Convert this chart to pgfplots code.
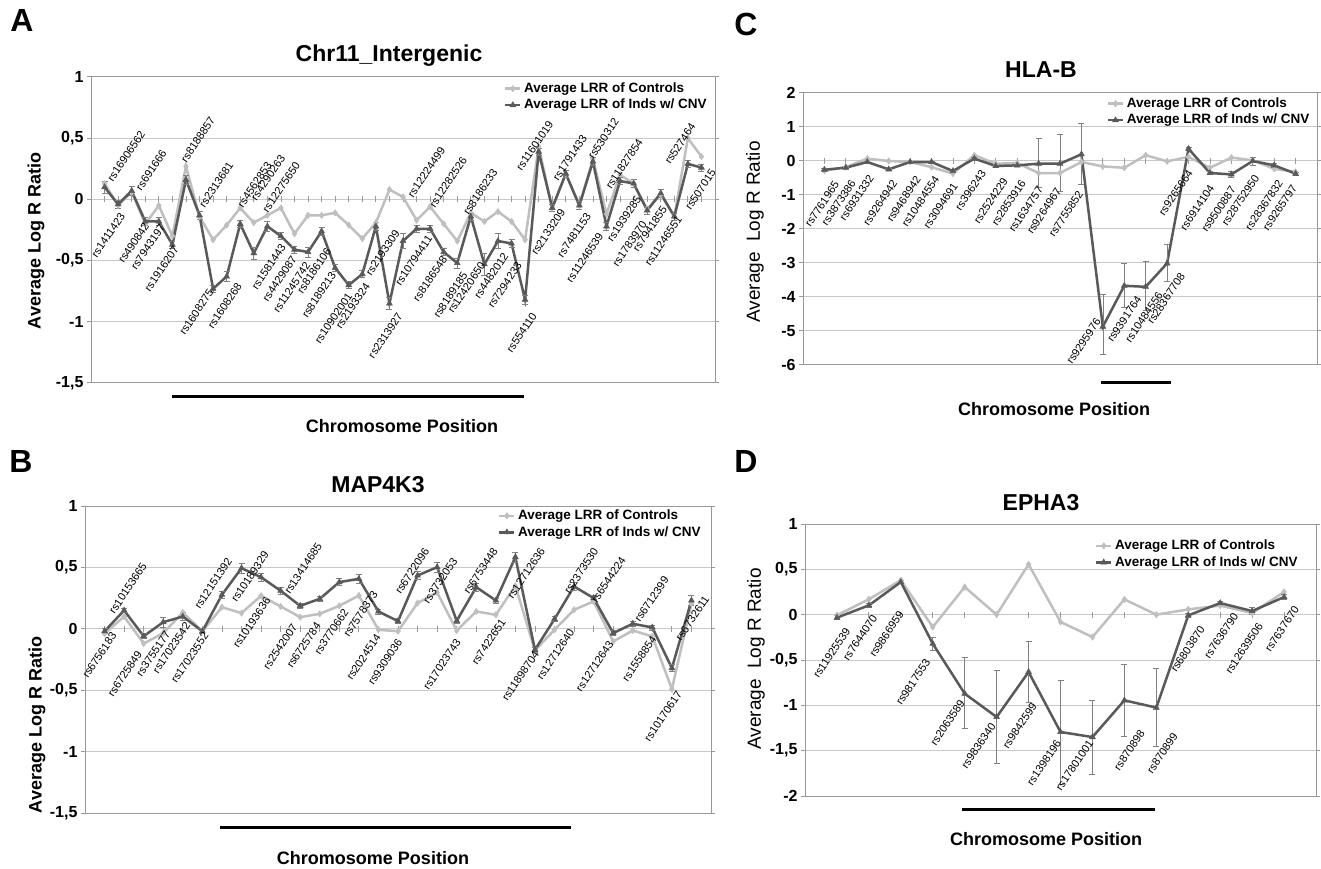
\documentclass[border=0pt]{standalone}
\usepackage{fontspec}
\setmainfont{Liberation Sans}
\usepackage{pgfplots}
\usepackage{pgfplotstable}
\pgfplotsset{compat=1.18}
\definecolor{lightser}{HTML}{BFBFBF}
\definecolor{darkser}{HTML}{595959}
\definecolor{gridc}{HTML}{C8C8C8}
\definecolor{framec}{HTML}{999999}

% ---------------- Panel A data ----------------
\pgfplotstableread{
x c d e
1 0.13 0.10 0.05
2 -0.05 -0.04 0.03
3 0.06 0.07 0.04
4 -0.20 -0.18 0.03
5 -0.05 -0.18 0.03
6 -0.30 -0.37 0.03
7 0.27 0.16 0.04
8 -0.14 -0.13 0.03
9 -0.33 -0.73 0.03
10 -0.21 -0.63 0.04
11 -0.07 -0.20 0.03
12 -0.19 -0.44 0.05
13 -0.13 -0.22 0.04
14 -0.07 -0.30 0.03
15 -0.28 -0.41 0.03
16 -0.13 -0.43 0.04
17 -0.13 -0.26 0.03
18 -0.11 -0.56 0.03
19 -0.21 -0.70 0.03
20 -0.32 -0.61 0.03
21 -0.19 -0.22 0.03
22 0.08 -0.85 0.05
23 0.02 -0.34 0.06
24 -0.17 -0.24 0.03
25 -0.06 -0.24 0.03
26 -0.20 -0.43 0.03
27 -0.34 -0.52 0.04
28 -0.11 -0.14 0.03
29 -0.18 -0.53 0.09
30 -0.10 -0.34 0.06
31 -0.18 -0.36 0.03
32 -0.33 -0.82 0.04
33 0.43 0.39 0.03
34 -0.07 -0.07 0.03
35 0.21 0.21 0.03
36 -0.05 -0.05 0.03
37 0.33 0.31 0.03
38 -0.12 -0.22 0.03
39 0.20 0.15 0.03
40 0.13 0.13 0.03
41 -0.08 -0.09 0.03
42 0.04 0.05 0.03
43 -0.14 -0.14 0.03
44 0.50 0.29 0.03
45 0.35 0.26 0.03
}\dataA
\pgfplotstableread{
x y l
1.37 0.153 rs16906562
3.46 0.078 rs691666
6.78 0.309 rs8188857
8.13 -0.06 rs2313681
10.96 -0.06 rs4562853
11.95 -0.004 rs4290263
12.8 -0.10 rs12275650
20.4 -0.616 rs2193309
23.5 0.023 rs12224499
25.1 -0.06 rs12282526
27.6 -0.12 rs8186233
31.5 0.24 rs11601019
34.2 0.16 rs1791433
36.8 0.336 rs530312
38.1 0.09 rs11827854
42.45 0.295 rs527464
}\labAup
\pgfplotstableread{
x y l
2.35 -0.113 rs1411423
4.12 -0.195 rs490842
5.3 -0.208 rs7943197
6.3 -0.385 rs1916207
8.87 -0.74 rs1608275
10.96 -0.685 rs1608268
14.2 -0.37 rs1581443
15.0 -0.467 rs4429087
16.0 -0.52 rs11245742
17.55 -0.40 rs8186106
17.9 -0.60 rs8189213
19.1 -0.77 rs10902001
20.4 -0.685 rs2193324
22.8 -0.93 rs2313927
25.0 -0.30 rs10794411
26.1 -0.467 rs8186548
27.6 -0.60 rs8189185
28.9 -0.52 rs12420650
30.6 -0.44 rs4482012
31.6 -0.52 rs7294233
32.7 -0.93 rs554110
34.8 -0.086 rs2133209
36.7 -0.113 rs7481153
37.6 -0.277 rs11246539
40.4 0.023 rs1939285
40.8 -0.18 rs1783970
42.3 -0.06 rs7941855
43.4 -0.14 rs11246551
45.9 0.24 rs507015
}\labAdn

% ---------------- Panel B data ----------------
\pgfplotstableread{
x c d e
1 -0.04 -0.02 0.02
2 0.10 0.15 0.02
3 -0.12 -0.06 0.02
4 -0.035 0.054 0.04
5 0.133 0.10 0.03
6 -0.02 -0.02 0.02
7 0.176 0.277 0.03
8 0.128 0.494 0.04
9 0.269 0.42 0.03
10 0.182 0.31 0.03
11 0.095 0.187 0.02
12 0.122 0.244 0.02
13 0.187 0.38 0.03
14 0.271 0.407 0.04
15 -0.008 0.141 0.02
16 -0.02 0.062 0.02
17 0.21 0.434 0.03
18 0.296 0.502 0.04
19 -0.014 0.065 0.02
20 0.141 0.339 0.03
21 0.114 0.231 0.02
22 0.35 0.584 0.04
23 -0.176 -0.171 0.02
24 -0.008 0.079 0.02
25 0.155 0.345 0.03
26 0.223 0.25 0.02
27 -0.103 -0.035 0.02
28 -0.014 0.041 0.02
29 -0.062 0.011 0.02
30 -0.491 -0.32 0.03
31 0.204 0.231 0.04
}\dataB
\pgfplotstableread{
x y l
1.34 0.128 rs10153665
5.7 0.168 rs12151392
7.58 0.223 rs10189329
10.3 0.29 rs13414685
15.96 0.29 rs6722096
17.4 0.21 rs3732053
19.46 0.29 rs6753448
21.7 0.25 rs12712636
24.6 0.29 rs2373530
26.0 0.22 rs6544224
28.2 0.06 rs6712399
}\labBup
\pgfplotstableread{
x y l
1.5 -0.035 rs6756183
2.8 -0.185 rs6725849
4.25 -0.02 rs3755177
5.27 0.046 rs17023542
6.2 -0.035 rs17023552
9.37 0.25 rs10193636
10.74 0.033 rs2542007
11.94 0.046 rs6725784
13.36 0.155 rs3770662
14.85 0.30 rs7578373
15.0 -0.05 rs2024514
16.1 -0.09 rs9309036
19.1 -0.09 rs17023743
21.4 0.073 rs7422651
23.1 -0.185 rs11898704
24.9 -0.008 rs12712640
26.9 -0.103 rs12712643
29.1 -0.062 rs1558854
30.4 -0.51 rs10170617
31.8 0.263 rs6732611
}\labBdn

% ---------------- Panel C data ----------------
\pgfplotstableread{
x c d ep em
1 -0.29 -0.255 0.03 0.03
2 -0.18 -0.197 0.03 0.03
3 0.07 -0.03 0.03 0.03
4 0.0 -0.246 0.03 0.03
5 -0.03 -0.03 0.03 0.03
6 -0.18 -0.03 0.03 0.03
7 -0.37 -0.295 0.03 0.03
8 0.17 0.069 0.03 0.03
9 -0.08 -0.147 0.03 0.03
10 -0.06 -0.128 0.03 0.03
11 -0.354 -0.079 0.74 0.71
12 -0.354 -0.079 0.86 0.81
13 -0.03 0.197 0.90 0.87
14 -0.16 -4.87 0.94 0.83
15 -0.20 -3.67 0.66 0.63
16 0.17 -3.70 0.74 0.70
17 -0.01 -3.01 0.57 0.53
18 0.12 0.36 0.05 0.05
19 -0.20 -0.354 0.05 0.05
20 0.10 -0.393 0.10 0.10
21 0.02 0.0 0.12 0.12
22 -0.23 -0.128 0.05 0.05
23 -0.32 -0.373 0.05 0.05
}\dataC
\pgfplotstableread{
x y l
1.58 -0.62 rs7761965
2.36 -0.57 rs3873386
3.2 -0.42 rs6931332
4.3 -0.57 rs9264942
5.4 -0.47 rs9468942
6.26 -0.47 rs10484554
7.12 -0.67 rs3094691
8.44 -0.28 rs396243
9.46 -0.52 rs2524229
10.3 -0.57 rs2853916
11.1 -0.77 rs1634757
11.95 -0.82 rs9264967
12.97 -0.91 rs7755852
13.8 -4.65 rs9295976
15.7 -4.0 rs9391764
16.7 -3.86 rs10484556
17.73 -3.32 rs28367708
18.1 -0.28 rs9265664
19.1 -0.72 rs6914104
20.1 -0.77 rs9500887
21.2 -0.42 rs28752950
22.3 -0.57 rs28367832
22.96 -0.72 rs9265797
}\labCdn

% ---------------- Panel D data ----------------
\pgfplotstableread{
x c d ep em
1 -0.007 -0.033 0.02 0.02
2 0.17 0.103 0.02 0.02
3 0.38 0.36 0.02 0.02
4 -0.136 -0.32 0.07 0.07
5 0.305 -0.871 0.397 0.386
6 0.0 -1.129 0.515 0.507
7 0.555 -0.632 0.338 0.339
8 -0.08 -1.294 0.57 0.577
9 -0.247 -1.35 0.41 0.41
10 0.169 -0.945 0.397 0.395
11 0.0 -1.025 0.43 0.424
12 0.058 -0.008 0.02 0.02
13 0.10 0.128 0.02 0.02
14 0.018 0.04 0.04 0.04
15 0.25 0.194 0.03 0.03
}\dataD
\pgfplotstableread{
x y l
1.35 -0.154 rs11925539
2.19 -0.007 rs7644070
3.02 0.03 rs9866959
3.85 -0.5 rs9817553
4.93 -0.945 rs2063589
5.9 -1.2 rs9836340
7.19 -0.98 rs9842599
7.95 -1.39 rs1398196
8.96 -1.39 rs17801001
10.57 -1.28 rs870898
11.6 -1.31 rs870899
12.45 -0.136 rs6803870
13.5 0.011 rs7636790
14.27 -0.1 rs12639506
15.4 0.085 rs7637670
}\labDdn

\pgfplotsset{
  panel/.style={
    scale only axis, clip=false,
    axis line style={framec, line width=1pt},
    ymajorgrids, major grid style={gridc, line width=1pt},
    xtick=\empty,
    ytick style={framec, line width=1pt}, tick align=outside, major tick length=4pt,
    yticklabel style={font=\fontsize{16}{18}\selectfont\bfseries},
    legend cell align=left,
    legend style={draw=none, fill=none, inner sep=0pt, outer sep=0pt, row sep=0pt, column sep=2pt,
      nodes={inner sep=0.5pt, text height=11.5pt, text depth=4pt, font=\fontsize{13.5}{16}\selectfont\bfseries}},
    legend image code/.code={\draw[mark repeat=2,mark phase=2,##1] plot coordinates {(0pt,0pt) (7.5pt,0pt) (15pt,0pt)};},
  },
  ctrl/.style={lightser, line width=2.5pt, mark=diamond*, mark size=3.2pt,
    mark options={solid, fill=lightser, draw=lightser, line width=0.5pt}},
  cnv/.style={darkser, line width=2.5pt, mark=triangle*, mark size=3.4pt,
    mark options={solid, fill=darkser, draw=darkser, line width=0.5pt},
    error bars/y dir=both, error bars/y explicit,
    error bars/error bar style={gray, line width=0.7pt},
    error bars/error mark options={rotate=90, gray, mark size=3pt, line width=0.7pt}},
  lblup/.style={only marks, mark=none, forget plot,
    nodes near coords, point meta=explicit symbolic,
    nodes near coords style={anchor=west, rotate=56, inner sep=0.5pt, text=black, font=\fontsize{11}{12}\selectfont}},
  lbldn/.style={only marks, mark=none, forget plot,
    nodes near coords, point meta=explicit symbolic,
    nodes near coords style={anchor=east, rotate=56, inner sep=0.5pt, text=black, font=\fontsize{11}{12}\selectfont}},
}

\begin{document}
\begin{tikzpicture}
\path[use as bounding box] (0pt,0pt) rectangle (1321pt,868pt);

% ===== Panel A =====
\begin{axis}[panel, at={(91pt,485pt)}, anchor=south west, width=624pt, height=306pt,
  xmin=0, xmax=46, ymin=-1.5, ymax=1,
  ytick={-1.5,-1,-0.5,0,0.5,1}, yticklabels={{-1,5},{-1},{-0,5},{0},{0,5},{1}},
  legend style={at={(0.662,0.989)}, anchor=north west}]
\pgfplotsinvokeforeach{1,...,45}{\draw[framec, line width=0.8pt] (axis cs:#1,0) ++(0pt,-3pt) -- ++(0pt,6pt);}
\addplot[ctrl] table[x=x, y=c] {\dataA};
\addlegendentry{Average LRR of Controls}
\addplot[cnv] table[x=x, y=d, y error=e] {\dataA};
\addlegendentry{Average LRR of Inds w/ CNV}
\addplot[lblup] table[x=x, y=y, meta=l] {\labAup};
\addplot[lbldn] table[x=x, y=y, meta=l] {\labAdn};
\end{axis}

% ===== Panel B =====
\begin{axis}[panel, at={(85pt,55pt)}, anchor=south west, width=626pt, height=307pt,
  xmin=0, xmax=32, ymin=-1.5, ymax=1,
  ytick={-1.5,-1,-0.5,0,0.5,1}, yticklabels={{-1,5},{-1},{-0,5},{0},{0,5},{1}},
  legend style={at={(0.66,0.995)}, anchor=north west}]
\pgfplotsinvokeforeach{1,...,31}{\draw[framec, line width=0.8pt] (axis cs:#1,0) ++(0pt,-3pt) -- ++(0pt,6pt);}
\addplot[ctrl] table[x=x, y=c] {\dataB};
\addlegendentry{Average LRR of Controls}
\addplot[cnv] table[x=x, y=d, y error=e] {\dataB};
\addlegendentry{Average LRR of Inds w/ CNV}
\addplot[lblup] table[x=x, y=y, meta=l] {\labBup};
\addplot[lbldn] table[x=x, y=y, meta=l] {\labBdn};
\end{axis}

% ===== Panel C =====
\begin{axis}[panel, at={(803pt,503pt)}, anchor=south west, width=514pt, height=272pt,
  xmin=0, xmax=24, ymin=-6, ymax=2,
  ytick={-6,-5,-4,-3,-2,-1,0,1,2}, yticklabels={{-6},{-5},{-4},{-3},{-2},{-1},{0},{1},{2}},
  legend style={at={(0.591,0.991)}, anchor=north west}]
\pgfplotsinvokeforeach{1,...,23}{\draw[framec, line width=0.8pt] (axis cs:#1,0) ++(0pt,-3pt) -- ++(0pt,6pt);}
\addplot[ctrl] table[x=x, y=c] {\dataC};
\addlegendentry{Average LRR of Controls}
\addplot[cnv] table[x=x, y=d, y error plus=ep, y error minus=em] {\dataC};
\addlegendentry{Average LRR of Inds w/ CNV}
\addplot[lbldn] table[x=x, y=y, meta=l] {\labCdn};
\end{axis}

% ===== Panel D =====
\begin{axis}[panel, at={(805pt,72pt)}, anchor=south west, width=511pt, height=272pt,
  xmin=0, xmax=16, ymin=-2, ymax=1,
  ytick={-2,-1.5,-1,-0.5,0,0.5,1}, yticklabels={{-2},{-1,5},{-1},{-0,5},{0},{0,5},{1}},
  legend style={at={(0.5675,0.95)}, anchor=north west}]
\pgfplotsinvokeforeach{1,...,15}{\draw[framec, line width=0.8pt] (axis cs:#1,0) ++(0pt,-3pt) -- ++(0pt,6pt);}
\addplot[ctrl] table[x=x, y=c] {\dataD};
\addlegendentry{Average LRR of Controls}
\addplot[cnv] table[x=x, y=d, y error plus=ep, y error minus=em] {\dataD};
\addlegendentry{Average LRR of Inds w/ CNV}
\addplot[lbldn] table[x=x, y=y, meta=l] {\labDdn};
\end{axis}

% ===== Panel letters =====
\node[font=\fontsize{32}{34}\selectfont\bfseries] at (22pt,847pt) {A};
\node[font=\fontsize{32}{34}\selectfont\bfseries] at (21pt,407pt) {B};
\node[font=\fontsize{32}{34}\selectfont\bfseries] at (746pt,844pt) {C};
\node[font=\fontsize{32}{34}\selectfont\bfseries] at (746pt,407pt) {D};

% ===== Titles =====
\node[font=\fontsize{23}{26}\selectfont\bfseries, anchor=base] at (389pt,806pt) {Chr11\_Intergenic};
\node[font=\fontsize{23}{26}\selectfont\bfseries, anchor=base] at (378pt,375pt) {MAP4K3};
\node[font=\fontsize{23}{26}\selectfont\bfseries, anchor=base] at (1041pt,790pt) {HLA-B};
\node[font=\fontsize{23}{26}\selectfont\bfseries, anchor=base] at (1041pt,358pt) {EPHA3};

% ===== Y labels =====
\node[font=\fontsize{18}{20}\selectfont\bfseries, rotate=90] at (36pt,627pt) {Average Log R Ratio};
\node[font=\fontsize{18}{20}\selectfont\bfseries, rotate=90] at (37pt,143pt) {Average Log R Ratio};
\node[font=\fontsize{19}{21}\selectfont, rotate=90] at (755pt,636pt) {Average\ \ Log R Ratio};
\node[font=\fontsize{19}{21}\selectfont, rotate=90] at (756pt,209pt) {Average\ \ Log R Ratio};

% ===== Region bars and x labels =====
\draw[black, line width=3pt] (172pt,471pt) -- (524pt,471pt);
\draw[black, line width=3pt] (220pt,41pt) -- (571pt,41pt);
\draw[black, line width=3pt] (1101pt,485pt) -- (1171pt,485pt);
\draw[black, line width=3pt] (962pt,59pt) -- (1155pt,59pt);
\node[font=\fontsize{18}{20}\selectfont\bfseries, anchor=base] at (402pt,435pt) {Chromosome Position};
\node[font=\fontsize{18}{20}\selectfont\bfseries, anchor=base] at (373pt,4pt) {Chromosome Position};
\node[font=\fontsize{18}{20}\selectfont\bfseries, anchor=base] at (1054pt,452pt) {Chromosome Position};
\node[font=\fontsize{18}{20}\selectfont\bfseries, anchor=base] at (1046pt,23pt) {Chromosome Position};
\end{tikzpicture}
\end{document}
